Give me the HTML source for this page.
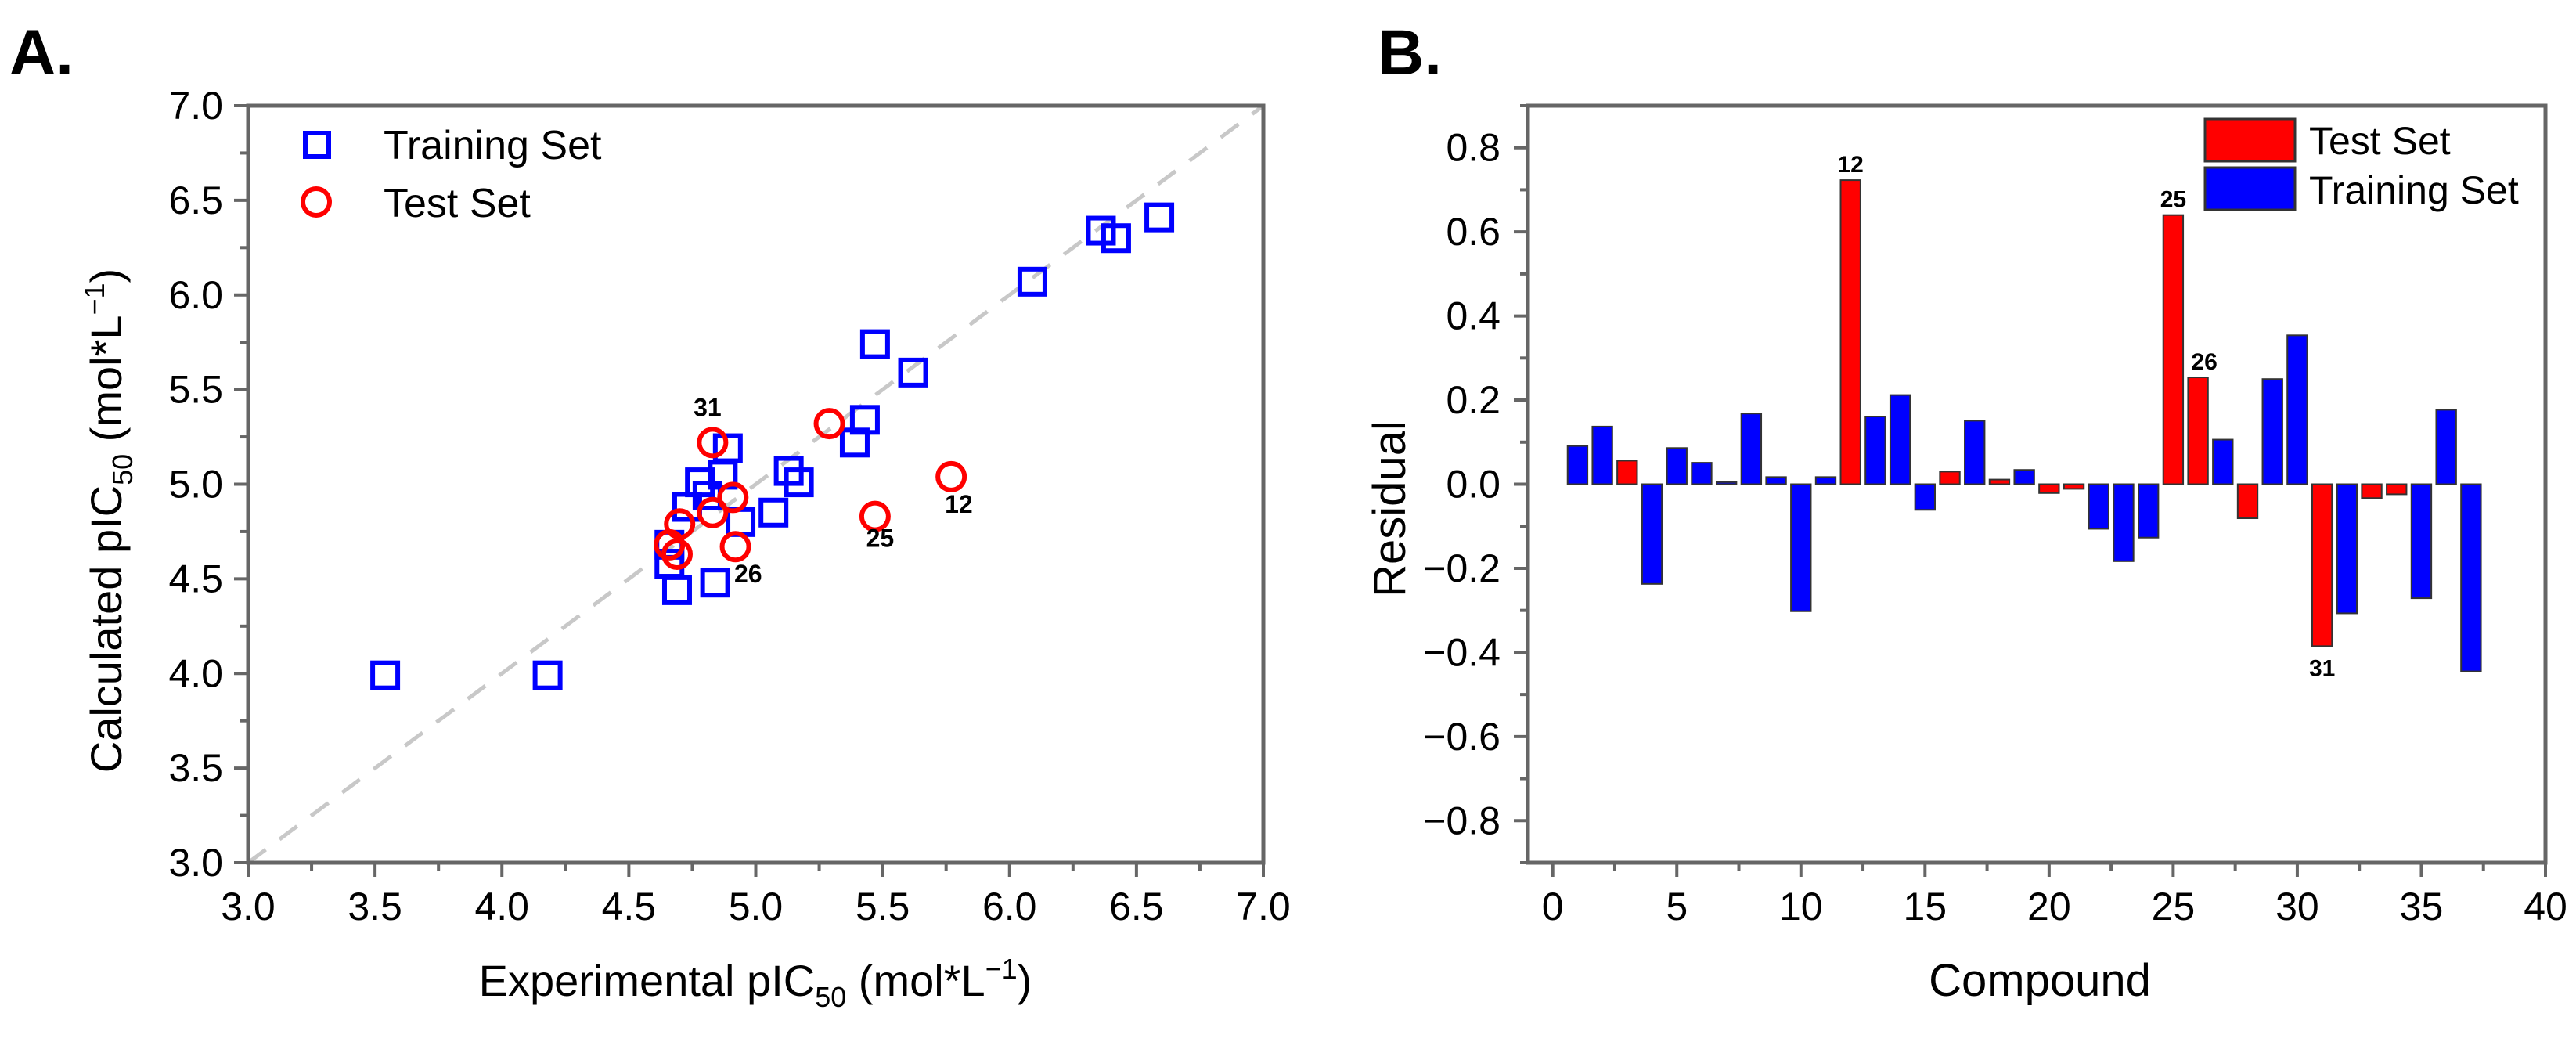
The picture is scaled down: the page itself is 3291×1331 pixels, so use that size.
<!DOCTYPE html>
<html><head><meta charset="utf-8"><style>
html,body{margin:0;padding:0;background:#fff}
svg{display:block;font-family:"Liberation Sans",Arial,sans-serif}
</style></head><body>
<svg id="fig" width="3291" height="1331" viewBox="0 0 3291 1331" xmlns="http://www.w3.org/2000/svg">
<text x="12" y="95" font-size="82" font-weight="bold">A.</text>
<text x="1760" y="95" font-size="82" font-weight="bold">B.</text>
<g id="pa"></g>
<g id="pb"></g>
</svg>
<script>
// ---- Panel A data ----
const trainExp = [3.54,4.18,6.09,6.36,6.42,6.59,5.47,5.62,5.43,5.39,5.13,5.17,5.07,4.89,4.87,4.78,4.81,4.73,4.94,4.66,4.69,4.84,4.66];
const trainCalc = [3.99,3.99,6.07,6.34,6.30,6.41,5.74,5.59,5.34,5.22,5.07,5.01,4.85,5.19,5.05,5.01,4.94,4.88,4.80,4.58,4.44,4.48,4.68];
const testExp = [4.83,5.29,5.77,5.47,4.91,4.83,4.70,4.92,4.66,4.69];
const testCalc = [5.22,5.32,5.04,4.83,4.93,4.85,4.79,4.67,4.68,4.63];
const aTicks = ["3.0","3.5","4.0","4.5","5.0","5.5","6.0","6.5","7.0"];
const aLabels = ["31","12","25","26"];
const aLabelExp = [4.81,5.80,5.49,4.97];
const aLabelCalc = [5.36,4.85,4.67,4.48];
// ---- Panel B data ----
const compounds = [1,2,3,4,5,6,7,8,9,10,11,12,13,14,15,16,17,18,19,20,21,22,23,24,25,26,27,28,29,30,31,32,33,34,35,36,37];
const residuals = [0.091,0.137,0.056,-0.237,0.086,0.051,0.005,0.168,0.017,-0.302,0.017,0.723,0.161,0.212,-0.061,0.030,0.151,0.011,0.034,-0.021,-0.011,-0.106,-0.183,-0.127,0.640,0.254,0.106,-0.081,0.25,0.354,-0.385,-0.307,-0.033,-0.024,-0.271,0.177,-0.445];
const testIds = [3,12,16,18,20,21,25,26,28,31,33,34];
const bXTicks = [0,5,10,15,20,25,30,35,40];
const bYTicks = [0.8,0.6,0.4,0.2,0.0,-0.2,-0.4,-0.6,-0.8];
const bLabels = ["12","25","26","31"];

const NS="http://www.w3.org/2000/svg";
function mk(parent,tag,attrs,text){const e=document.createElementNS(NS,tag);for(const k in attrs)e.setAttribute(k,attrs[k]);if(text!==undefined)e.textContent=text;parent.appendChild(e);return e;}

// Panel A
const A=document.getElementById('pa');
const aL=317,aR=1614,aT=135,aB=1102;
const ax=v=>aL+(v-3)/4*(aR-aL), ay=v=>aB-(v-3)/4*(aB-aT);
let e;
e=mk(A,'line',{x1:ax(3),y1:ay(3),x2:ax(7),y2:ay(7),stroke:'#c8c8c8','stroke-width':5,'stroke-dasharray':'28,22'});


for(let i=0;i<trainExp.length;i++){
 e=mk(A,'rect',{x:ax(trainExp[i])-16,y:ay(trainCalc[i])-16,width:32,height:32,fill:'none',stroke:'#0000ff','stroke-width':6});
 
 
}
for(let i=0;i<testExp.length;i++){
 e=mk(A,'circle',{cx:ax(testExp[i]),cy:ay(testCalc[i]),r:17,fill:'none',stroke:'#ff0000','stroke-width':6});
 
 
}
for(let i=0;i<aLabels.length;i++){
 e=mk(A,'text',{x:ax(aLabelExp[i]),y:ay(aLabelCalc[i]),'font-size':32,'font-weight':'bold','text-anchor':'middle'},aLabels[i]);
 
 
}
e=mk(A,'rect',{x:aL,y:aT,width:aR-aL,height:aB-aT,fill:'none',stroke:'#666','stroke-width':5});


for(let i=0;i<=16;i++){const v=3+i*0.25,maj=i%2==0;
 mk(A,'line',{x1:ax(v),y1:aB,x2:ax(v),y2:aB+(maj?18:10),stroke:'#666','stroke-width':4});
 mk(A,'line',{x1:aL,y1:ay(v),x2:aL-(maj?18:10),y2:ay(v),stroke:'#666','stroke-width':4});
}
aTicks.forEach((t,i)=>{const v=parseFloat(t);
 e=mk(A,'text',{x:ax(v),y:1175,'font-size':50,'text-anchor':'middle'},t);
 
 
 e=mk(A,'text',{x:285,y:ay(v)+17,'font-size':50,'text-anchor':'end'},t);
 
 
});
e=mk(A,'text',{x:965,y:1272,'font-size':56,'text-anchor':'middle'});
e.innerHTML='Experimental pIC<tspan font-size="36" dy="14">50</tspan><tspan dy="-14"> (mol*L</tspan><tspan font-size="36" dy="-22">−1</tspan><tspan dy="22">)</tspan>';


e=mk(A,'text',{x:0,y:0,'font-size':56,'text-anchor':'middle',transform:'translate(155,665) rotate(-90)'});
e.innerHTML='Calculated pIC<tspan font-size="36" dy="14">50</tspan><tspan dy="-14"> (mol*L</tspan><tspan font-size="36" dy="-22">−1</tspan><tspan dy="22">)</tspan>';


e=mk(A,'rect',{x:390,y:170,width:30,height:30,fill:'none',stroke:'#0000ff','stroke-width':6});


e=mk(A,'text',{x:490,y:203,'font-size':52},'Training Set');


e=mk(A,'circle',{cx:404,cy:258,r:17,fill:'none',stroke:'#ff0000','stroke-width':6});


e=mk(A,'text',{x:490,y:277,'font-size':52},'Test Set');



// Panel B
const B=document.getElementById('pb');
const bL=1952,bR=3252,bT=135,bB=1102;
const bx=v=>bL+(v+1)/41*(bR-bL), by=v=>bT+(0.9-v)/1.8*(bB-bT);
const bw=0.8*(bR-bL)/41;
compounds.forEach((c,i)=>{const v=residuals[i],test=testIds.includes(c);
 e=mk(B,'rect',{x:bx(c)-bw/2,y:Math.min(by(v),by(0)),width:bw,height:Math.max(1.5,Math.abs(by(v)-by(0))),fill:test?'#ff0000':'#0000ff',stroke:'#333','stroke-width':2});
 
 
});
bLabels.forEach(l=>{const c=parseInt(l),v=residuals[c-1];
 const y=v>=0?by(v)-10:by(v)+38; const dx=l==="26"?8:0;
 e=mk(B,'text',{x:bx(c)+dx,y:y,'font-size':30,'font-weight':'bold','text-anchor':'middle'},l);
 
 
});
e=mk(B,'rect',{x:bL,y:bT,width:bR-bL,height:bB-bT,fill:'none',stroke:'#666','stroke-width':5});


for(let v=0;v<=40;v+=2.5){const maj=v%5==0;
 mk(B,'line',{x1:bx(v),y1:bB,x2:bx(v),y2:bB+(maj?18:10),stroke:'#666','stroke-width':4});}
for(let i=-9;i<=9;i++){const v=i/10,maj=Math.abs(i)%2==0&&Math.abs(i)<9;
 mk(B,'line',{x1:bL,y1:by(v),x2:bL-(maj?18:10),y2:by(v),stroke:'#666','stroke-width':4});}
bXTicks.forEach(t=>{
 e=mk(B,'text',{x:bx(t),y:1175,'font-size':50,'text-anchor':'middle'},String(t));
 
 
});
bYTicks.forEach(t=>{
 e=mk(B,'text',{x:1917,y:by(t)+17,'font-size':50,'text-anchor':'end'},(t<0?'−':'')+Math.abs(t).toFixed(1));
 
 
});
e=mk(B,'text',{x:2606,y:1272,'font-size':58,'text-anchor':'middle'},'Compound');


e=mk(B,'text',{x:0,y:0,'font-size':58,'text-anchor':'middle',transform:'translate(1795,650) rotate(-90)'},'Residual');


e=mk(B,'rect',{x:2817,y:152,width:115,height:54,fill:'#ff0000',stroke:'#333','stroke-width':3});


e=mk(B,'text',{x:2950,y:197,'font-size':50},'Test Set');


e=mk(B,'rect',{x:2817,y:214,width:115,height:54,fill:'#0000ff',stroke:'#333','stroke-width':3});


e=mk(B,'text',{x:2950,y:260,'font-size':50},'Training Set');


</script>
</body></html>
